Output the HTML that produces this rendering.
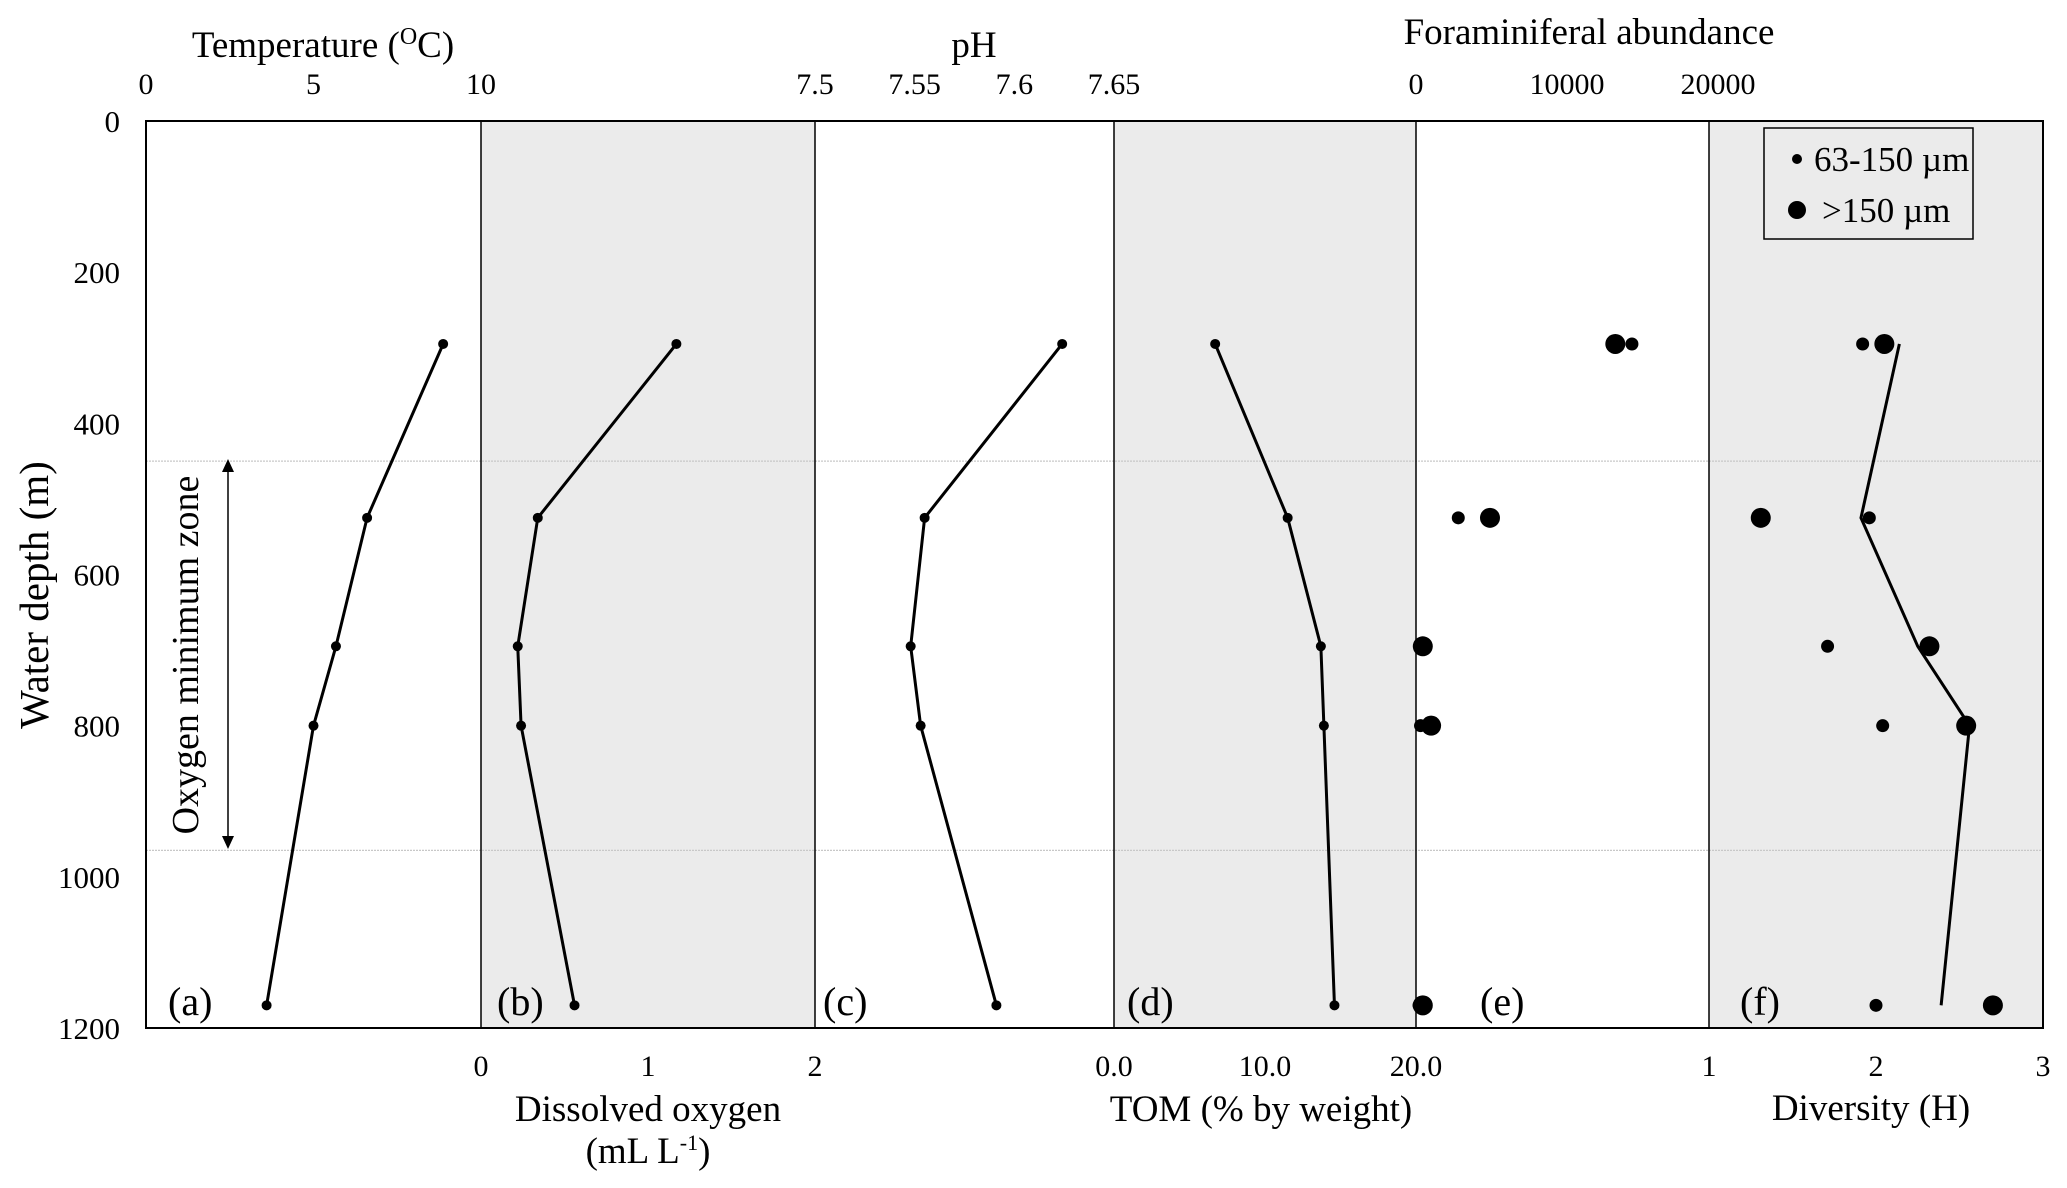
<!DOCTYPE html>
<html><head><meta charset="utf-8"><style>
html,body{margin:0;padding:0;background:#fff;}
svg{display:block;font-family:"Liberation Serif",serif;}
</style></head><body>
<svg id="c" width="2067" height="1188" viewBox="0 0 2067 1188" xmlns="http://www.w3.org/2000/svg"></svg>
<script>
const depths = [295, 525, 695, 800, 1170];
const temperature = [8.87, 6.6, 5.67, 5.0, 3.6];
const oxygen = [1.17, 0.34, 0.22, 0.24, 0.56];
const ph = [7.624, 7.555, 7.548, 7.553, 7.591];
const tom = [6.7, 11.5, 13.7, 13.9, 14.6];
const foramSmall = [14300, 2800, 300, 300, 200];
const foramLarge = [13200, 4900, 450, 1000, 450];
const divSmall = [1.92, 1.96, 1.71, 2.04, 2.0];
const divLarge = [2.05, 1.31, 2.32, 2.54, 2.70];
const divLine = [2.14, 1.91, 2.25, 2.56, 2.39];
const depthTicks = [0, 200, 400, 600, 800, 1000, 1200];
const tempTicks = ["0", "5", "10"];
const oxTicks = ["0", "1", "2"];
const phTicks = ["7.5", "7.55", "7.6", "7.65"];
const tomTicks = ["0.0", "10.0", "20.0"];
const foramTicks = ["0", "10000", "20000"];
const divTicks = ["1", "2", "3"];
const omzDepths = [450, 965];

const NS = "http://www.w3.org/2000/svg";
const svg = document.getElementById('c');
const TOP = 121, BOT = 1028;
const y = d => TOP + (d / 1200) * (BOT - TOP);
function lin(d0, d1, r0, r1) { return v => r0 + (v - d0) / (d1 - d0) * (r1 - r0); }
const xT = lin(0, 10, 146, 481), xO = lin(0, 2, 481, 815), xP = lin(7.5, 7.65, 815, 1114),
      xM = lin(0, 20, 1114, 1416), xF = lin(0, 20000, 1416, 1718), xD = lin(1, 3, 1709, 2043);
function el(tag, attrs, name, txt) {
  const e = document.createElementNS(NS, tag);
  for (const k in attrs) e.setAttribute(k, attrs[k]);
  
  
  if (txt !== undefined) e.textContent = txt;
  svg.appendChild(e); return e;
}
[[481, 815], [1114, 1416], [1709, 2043]].forEach(p => {
  el('rect', {x: p[0], y: TOP, width: p[1] - p[0], height: BOT - TOP, fill: '#ebebeb'}, 'panel-shade');
});
omzDepths.forEach(d => el('line', {x1: 146, x2: 2043, y1: y(d), y2: y(d), stroke: '#c8c8c8', 'stroke-width': 1.2, 'stroke-dasharray': '2 1'}, 'omz-boundary-line'));
el('rect', {x: 146, y: TOP, width: 2043 - 146, height: BOT - TOP, fill: 'none', stroke: '#000', 'stroke-width': 2}, 'plot-frame');
[481, 815, 1114, 1416, 1709].forEach(x => el('line', {x1: x, x2: x, y1: TOP, y2: BOT, stroke: '#000', 'stroke-width': 1.5}, 'panel-divider'));
depthTicks.forEach(d => el('text', {x: 120, y: y(d) + 11, 'text-anchor': 'end', 'font-size': 31}, 'y-tick-label', String(d)));
el('text', {x: 0, y: 0, 'text-anchor': 'middle', 'font-size': 41, transform: 'translate(48,595) rotate(-90)'}, 'y-axis-title', 'Water depth (m)');
function ticks(arr, fx, vals, yy, name) { arr.forEach((t, i) => el('text', {x: fx(vals[i]), y: yy, 'text-anchor': 'middle', 'font-size': 30}, name, t)); }
ticks(tempTicks, xT, [0, 5, 10], 94, 'temperature-tick');
ticks(phTicks, xP, [7.5, 7.55, 7.6, 7.65], 94, 'ph-tick');
ticks(foramTicks, xF, [0, 10000, 20000], 94, 'foram-tick');
ticks(oxTicks, xO, [0, 1, 2], 1076, 'oxygen-tick');
ticks(tomTicks, xM, [0, 10, 20], 1076, 'tom-tick');
ticks(divTicks, xD, [1, 2, 3], 1076, 'diversity-tick');
const tt = el('text', {x: 323, y: 57, 'text-anchor': 'middle', 'font-size': 37}, 'temperature-title');
tt.innerHTML = 'Temperature (<tspan font-size="24" dy="-13">O</tspan><tspan dy="13">C)</tspan>';
el('text', {x: 974, y: 57, 'text-anchor': 'middle', 'font-size': 37}, 'ph-title', 'pH');
el('text', {x: 1589, y: 44, 'text-anchor': 'middle', 'font-size': 37}, 'foram-title', 'Foraminiferal abundance');
el('text', {x: 648, y: 1121, 'text-anchor': 'middle', 'font-size': 37}, 'oxygen-title', 'Dissolved oxygen');
const ou = el('text', {x: 648, y: 1163, 'text-anchor': 'middle', 'font-size': 37}, 'oxygen-unit');
ou.innerHTML = '(mL L<tspan font-size="22" dy="-13">-1</tspan><tspan dy="13">)</tspan>';
el('text', {x: 1261, y: 1121, 'text-anchor': 'middle', 'font-size': 37}, 'tom-title', 'TOM (% by weight)');
el('text', {x: 1871, y: 1120, 'text-anchor': 'middle', 'font-size': 37}, 'diversity-title', 'Diversity (H)');
[['(a)', 168], ['(b)', 497], ['(c)', 823], ['(d)', 1127], ['(e)', 1480], ['(f)', 1740]].forEach(p =>
  el('text', {x: p[1], y: 1015, 'font-size': 40}, 'panel-label', p[0]));
el('line', {x1: 228, x2: 228, y1: 472, y2: 836, stroke: '#000', 'stroke-width': 1.5}, 'omz-arrow');
el('path', {d: 'M222 472 L228 459 L234 472 Z', fill: '#000'}, 'omz-arrow-head');
el('path', {d: 'M222 836 L228 849 L234 836 Z', fill: '#000'}, 'omz-arrow-head');
el('text', {x: 0, y: 0, 'text-anchor': 'middle', 'font-size': 38, transform: 'translate(198,655) rotate(-90)'}, 'omz-label', 'Oxygen minimum zone');
function profile(vals, fx, name, r) {
  el('polyline', {points: vals.map((v, i) => fx(v) + ',' + y(depths[i])).join(' '), fill: 'none', stroke: '#000', 'stroke-width': 3}, name + '-line');
  if (r) vals.forEach((v, i) => el('circle', {cx: fx(v), cy: y(depths[i]), r: r, fill: '#000'}, name + '-point'));
}
profile(temperature, xT, 'temperature', 5);
profile(oxygen, xO, 'oxygen', 5);
profile(ph, xP, 'ph', 5);
profile(tom, xM, 'tom', 5);
profile(divLine, xD, 'diversity', 0);
function dots(vals, fx, r, name) { vals.forEach((v, i) => el('circle', {cx: fx(v), cy: y(depths[i]), r: r, fill: '#000'}, name)); }
dots(foramLarge, xF, 10, 'foram-large-dot');
dots(foramSmall, xF, 6.5, 'foram-small-dot');
dots(divLarge, xD, 10, 'diversity-large-dot');
dots(divSmall, xD, 6.5, 'diversity-small-dot');
el('rect', {x: 1764, y: 128, width: 209, height: 111, fill: '#ebebeb', stroke: '#000', 'stroke-width': 1.5}, 'legend-box');
el('circle', {cx: 1797, cy: 159, r: 5, fill: '#000'}, 'legend-small-marker');
el('text', {x: 1814, y: 171, 'font-size': 35}, 'legend-small-label', '63-150 µm');
el('circle', {cx: 1797, cy: 210, r: 9, fill: '#000'}, 'legend-large-marker');
el('text', {x: 1822, y: 222, 'font-size': 35}, 'legend-large-label', '>150 µm');
</script>
</body></html>
